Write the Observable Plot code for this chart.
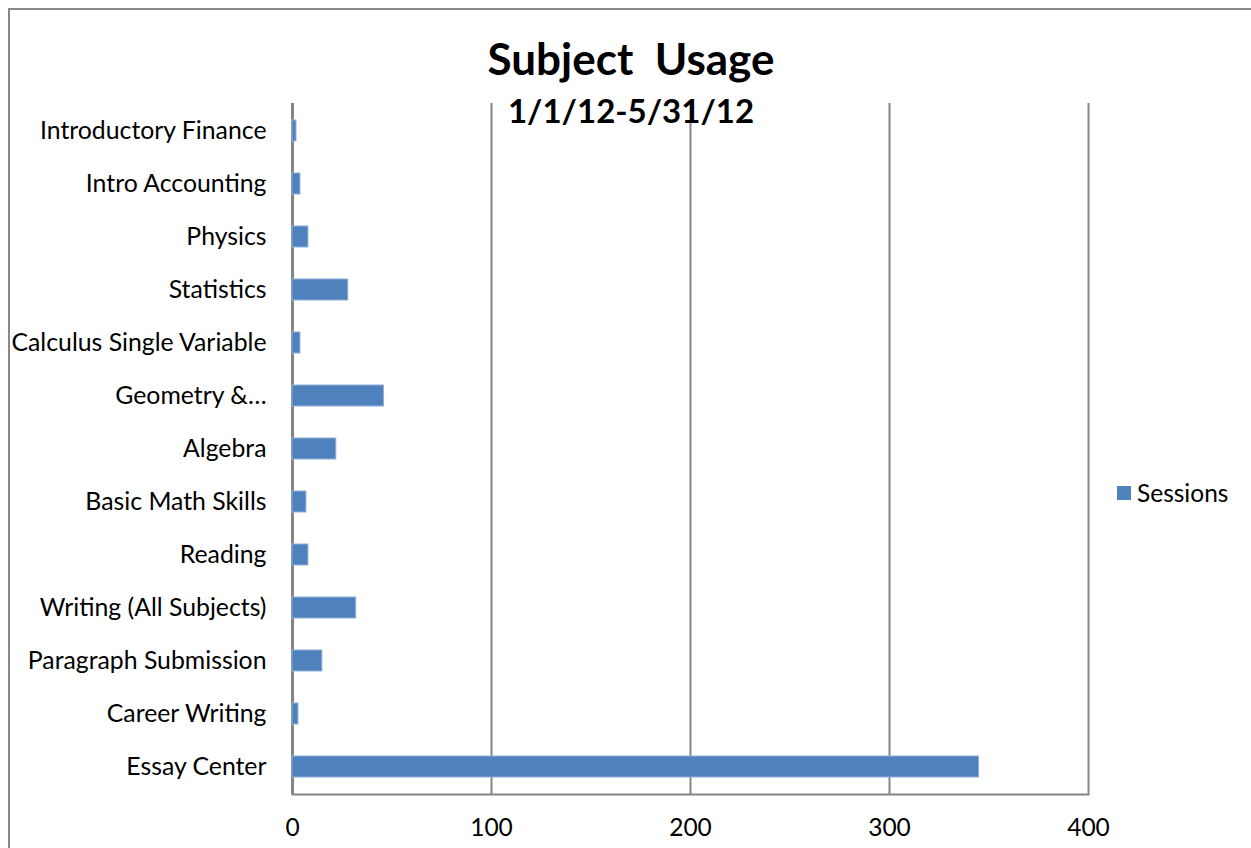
<!DOCTYPE html>
<html>
<head>
<meta charset="utf-8">
<script src="https://cdn.jsdelivr.net/npm/d3@7"></script>
<script src="https://cdn.jsdelivr.net/npm/@observablehq/plot@0.6"></script>
<style>
  html, body { margin: 0; padding: 0; background: #fff; }
  #wrap { position: relative; width: 1251px; height: 848px; overflow: hidden; font-family: Lato, "Open Sans", sans-serif; }
  #frame { position: absolute; left: 8px; top: 8px; width: 1250px; height: 900px; border: 2px solid #888; box-sizing: border-box; }
  #title { position: absolute; left: 0; width: 1262px; top: 32px; text-align: center; font-weight: bold; font-size: 44px; color: #000; white-space: pre; }
  #subtitle { position: absolute; left: 0; width: 1262px; top: 90px; text-align: center; font-weight: bold; font-size: 33px; color: #000; }
  #legend { position: absolute; left: 1117px; top: 478px; font-size: 24.5px; color: #000; display: flex; align-items: center; }
  #legend .sw { width: 14px; height: 14px; background: #4F81BD; margin-right: 6px; }
  #chart { position: absolute; left: 0; top: 0; }
</style>
</head>
<body>
<div id="wrap">
  <div id="frame"></div>
  <div id="chart"></div>
  <div id="title">Subject  Usage</div>
  <div id="subtitle">1/1/12-5/31/12</div>
  <div id="legend"><div class="sw"></div><span>Sessions</span></div>
</div>
<script>
const subjects = [
  "Introductory Finance",
  "Intro Accounting",
  "Physics",
  "Statistics",
  "Calculus Single Variable",
  "Geometry &…",
  "Algebra",
  "Basic Math Skills",
  "Reading",
  "Writing (All Subjects)",
  "Paragraph Submission",
  "Career Writing",
  "Essay Center"
];
const sessions = [2, 4, 8, 28, 4, 46, 22, 7, 8, 32, 15, 3, 345];
const xTicks = [0, 100, 200, 300, 400];

const data = subjects.map((s, i) => ({subject: s, sessions: sessions[i]}));

const chart = Plot.plot({
  width: 1251,
  height: 848,
  marginLeft: 292,
  marginRight: 163,
  marginTop: 103,
  marginBottom: 54,
  style: {fontFamily: "Lato, 'Open Sans', sans-serif", fontSize: "24.8px", color: "#000", background: "transparent"},
  x: {domain: [0, 400], ticks: xTicks, label: null},
  y: {domain: subjects, label: null, paddingInner: 0.6, paddingOuter: 0.3},
  marks: [
    Plot.ruleX(xTicks.filter(d => d > 0), {stroke: "#868686", strokeWidth: 2}),
    Plot.frame({anchor: "bottom", stroke: "#868686", strokeWidth: 2}),
    Plot.ruleX([0], {stroke: "#868686", strokeWidth: 3}),
    Plot.barX(data, {x: "sessions", y: "subject", fill: "#4F81BD", stroke: "#8EB0DA", strokeWidth: 1}),
    Plot.axisX({ticks: xTicks, tickSize: 0, tickPadding: 24, fontSize: 24.5, label: null}),
    Plot.axisY({tickSize: 0, tickPadding: 26, fontSize: 24.8, label: null})
  ]
});
document.getElementById("chart").appendChild(chart);
</script>
</body>
</html>
